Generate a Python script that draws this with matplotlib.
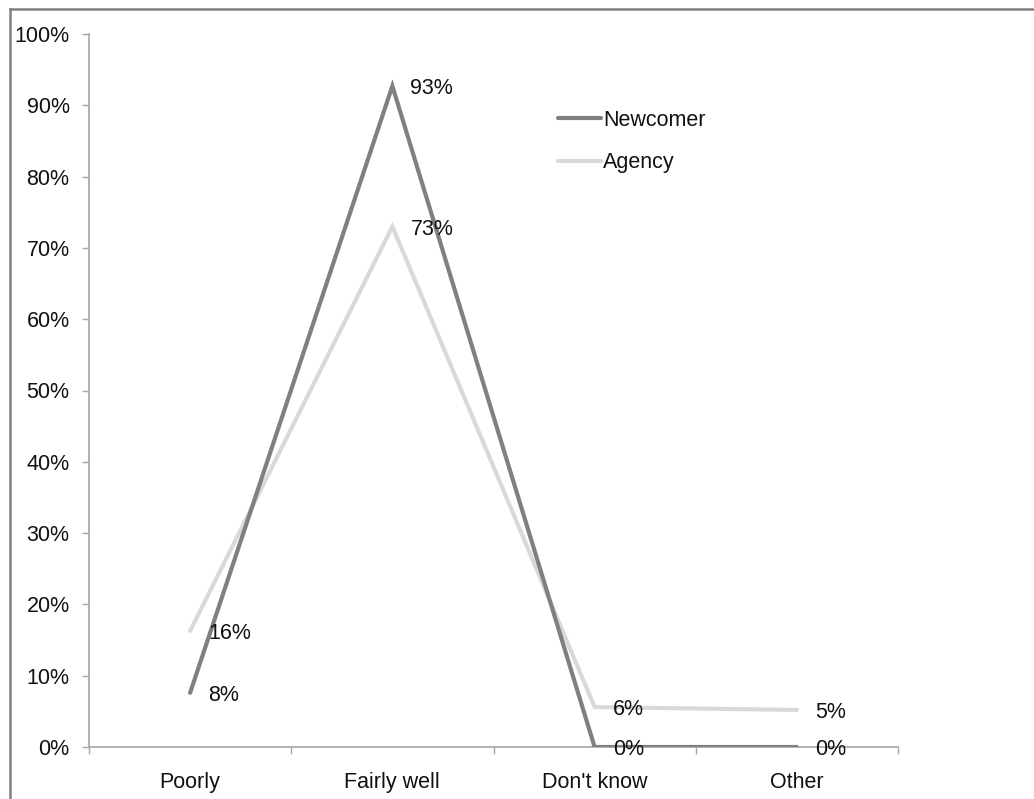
import matplotlib
matplotlib.use("Agg")
import matplotlib.pyplot as plt
from matplotlib.lines import Line2D
from matplotlib.ticker import FixedLocator, PercentFormatter

# Survey responses by group
categories = ["Poorly", "Fairly well", "Don't know", "Other"]
newcomer = [0.076, 0.927, 0.0, 0.0]
agency = [0.163, 0.730, 0.056, 0.052]
y_ticks = [i / 10 for i in range(11)]

plt.rcParams["font.family"] = ["Liberation Sans", "DejaVu Sans"]
FS = 15.5
TXT = "#111111"
AX_GRAY = "#a6a6a6"

W, H = 1034, 799
fig = plt.figure(figsize=(W / 100, H / 100), dpi=100)
fig.patch.set_facecolor("white")

# Chart-area frame: top and left edges
fig.add_artist(Line2D([9.5 / W, 9.5 / W], [0, 1 - 9 / H], transform=fig.transFigure,
                      color="#808080", lw=1.8))
fig.add_artist(Line2D([9.5 / W, 1], [1 - 9 / H, 1 - 9 / H], transform=fig.transFigure,
                      color="#808080", lw=1.8))

left, right, top, bottom = 89, 898, 34, 747
ax = fig.add_axes([left / W, 1 - bottom / H, (right - left) / W, (bottom - top) / H])

x = list(range(len(categories)))
ax.plot(x, newcomer, color="#808080", lw=3.0, solid_capstyle="round",
        solid_joinstyle="miter", label="Newcomer", zorder=3)
ax.plot(x, agency, color="#d9d9d9", lw=3.0, solid_capstyle="round",
        solid_joinstyle="miter", label="Agency", zorder=2)

for xi, v in zip(x, agency):
    ax.annotate(f"{v:.0%}", (xi, v), xytext=(13, -2), textcoords="offset points",
                ha="left", va="center", fontsize=FS, color=TXT, zorder=5)
for xi, v in zip(x, newcomer):
    ax.annotate(f"{v:.0%}", (xi, v), xytext=(13, -2), textcoords="offset points",
                ha="left", va="center", fontsize=FS, color=TXT, zorder=5)

ax.set_xlim(-0.5, len(categories) - 0.5)
ax.set_ylim(0, 1.0)

ax.set_xticks(x)
ax.set_xticklabels(categories)
ax.xaxis.set_minor_locator(FixedLocator([i - 0.5 for i in range(len(categories) + 1)]))
ax.tick_params(axis="x", which="major", length=0, pad=18, labelsize=FS, labelcolor=TXT)
ax.tick_params(axis="x", which="minor", length=5, width=1, color=AX_GRAY, direction="out")

ax.set_yticks(y_ticks)
ax.yaxis.set_major_formatter(PercentFormatter(1.0, decimals=0))
ax.tick_params(axis="y", length=5, width=1, color=AX_GRAY, direction="out",
               pad=9, labelsize=FS, labelcolor=TXT)

for s in ("top", "right"):
    ax.spines[s].set_visible(False)
for s in ("left", "bottom"):
    ax.spines[s].set_color(AX_GRAY)
    ax.spines[s].set_linewidth(1.2)

leg = ax.legend(loc="upper left", bbox_to_anchor=(0.58, 0.894), frameon=False,
                fontsize=FS, handlelength=2.0, handletextpad=0.1, labelspacing=1.0,
                borderaxespad=0, borderpad=0)
for t in leg.get_texts():
    t.set_color(TXT)

fig.savefig("out.png", dpi=100, facecolor="white")
